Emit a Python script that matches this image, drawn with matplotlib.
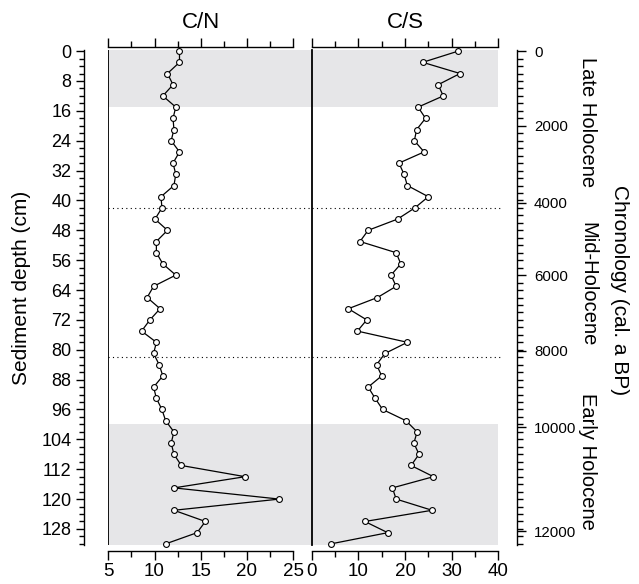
import numpy as np
import matplotlib
matplotlib.use("Agg")
import matplotlib.pyplot as plt
from matplotlib.ticker import MultipleLocator, FixedLocator, FixedFormatter
import matplotlib.transforms as mtransforms

plt.rcParams['font.family'] = ['Liberation Sans', 'DejaVu Sans']

# ---------------- data ----------------
depth_cm = [0, 3, 6, 9, 12, 15, 18, 21, 24, 27, 30, 33, 36, 39,
            42, 45, 48, 51, 54, 57, 60, 63, 66, 69, 72, 75, 78, 81, 84, 87, 90,
            93, 96, 99, 102, 105, 108, 111, 114, 117, 120, 123, 126, 129, 132]
cn_ratio = [12.7, 12.7, 11.4, 12.0, 10.9, 12.3, 12.0, 12.1, 11.8, 12.7, 12.0, 12.3, 12.1, 10.7,
            10.8, 10.05, 11.4, 10.2, 10.2, 10.9, 12.3, 9.9, 9.2, 10.6, 9.5, 8.6, 10.2, 9.9, 10.5, 10.9, 9.9,
            10.2, 10.8, 11.2, 12.1, 11.8, 12.1, 12.9, 19.8, 12.1, 23.5, 12.1, 15.5, 14.6, 11.2]
cs_ratio = [31.4, 23.8, 31.8, 27.1, 28.2, 22.8, 24.4, 22.5, 22.0, 24.1, 18.7, 19.8, 20.5, 25.0,
            22.1, 18.4, 12.1, 10.35, 18.1, 19.1, 17.0, 18.1, 14.1, 7.85, 11.8, 9.8, 20.5, 15.7, 13.9, 15.0, 12.1,
            13.6, 15.2, 20.2, 22.6, 21.9, 23.0, 21.3, 26.1, 17.3, 18.1, 25.8, 11.4, 16.3, 4.1]

# age-depth model (cal. a BP -> depth cm) used for the chronology axis
age_ticks = [0, 2000, 4000, 6000, 8000, 10000, 12000]
age_tick_depth = [0, 20.0, 40.6, 60.0, 80.2, 100.8, 128.6]

late_zone = (0, 15)
early_zone = (100, 132.3)
boundaries = [42, 82]
zone_labels = ["Late Holocene", "Mid-Holocene", "Early Holocene"]

# ---------------- figure ----------------
W, H = 639, 584
fig = plt.figure(figsize=(W / 100, H / 100), dpi=100)

def frac(x0, x1, ytop, ybot):
    return [x0 / W, 1 - ybot / H, (x1 - x0) / W, (ybot - ytop) / H]

ax_cn = fig.add_axes(frac(108.3, 311.7, 50, 545))
ax_cs = fig.add_axes(frac(311.7, 498.3, 50, 545))

ylim = (132.3, -0.3)
shade = '#e6e6e8'
lw_sp = 1.0

for ax, vals, xl, bounds, maj, title, tx in [
        (ax_cn, cn_ratio, (5, 27), (5, 25), 5, 'C/N', 15),
        (ax_cs, cs_ratio, (0, 40), (0, 40), 10, 'C/S', 20)]:
    ax.set_xlim(*xl)
    ax.set_ylim(*ylim)
    ax.patch.set_alpha(0)
    ax.axhspan(ylim[1], late_zone[1], color=shade, lw=0, zorder=0)
    ax.axhspan(early_zone[0], ylim[0], color=shade, lw=0, zorder=0)
    for b in boundaries:
        ax.plot([xl[0], xl[1] + (1.0 if ax is ax_cs else 0)], [b, b], color='k', lw=0.8,
                ls=(0, (1, 3)), zorder=1, clip_on=False)
    ax.plot(vals, depth_cm, color='k', lw=0.9, marker='o', ms=4.2, mfc='white',
            mec='k', mew=0.8, zorder=3, clip_on=False)
    for s in ['top', 'bottom']:
        ax.spines[s].set_bounds(*bounds)
        ax.spines[s].set_linewidth(lw_sp)
    ax.spines['top'].set_position(('outward', 2.4))
    ax.spines['bottom'].set_position(('outward', 4.3))
    ax.xaxis.set_major_locator(MultipleLocator(maj))
    ax.xaxis.set_minor_locator(MultipleLocator(maj / 2))
    ax.tick_params(axis='x', which='both', top=True, bottom=True, labeltop=False,
                   labelbottom=True, direction='out', width=lw_sp, labelsize=13.5, pad=2)
    ax.tick_params(axis='x', which='major', length=6.5)
    ax.tick_params(axis='x', which='minor', length=4.5)
    ax.text(tx, 1.0438, title, transform=mtransforms.blended_transform_factory(ax.transData, ax.transAxes),
            ha='center', va='baseline', fontsize=16)

# chronology axis
ax_age = ax_cs.twinx()
ax_age.set_ylim(*ylim)
for s in ['top', 'bottom', 'left']:
    ax_age.spines[s].set_visible(False)
ax_age.spines['right'].set_position(('outward', 13.2))
ax_age.spines['right'].set_linewidth(lw_sp)
ax_age.yaxis.set_major_locator(FixedLocator(age_tick_depth))
ax_age.yaxis.set_major_formatter(FixedFormatter([str(a) for a in age_ticks]))
ax_age.yaxis.set_minor_locator(MultipleLocator(2))
ax_age.tick_params(axis='y', which='both', direction='out', width=lw_sp, labelsize=10.8, pad=6)
ax_age.tick_params(axis='y', which='major', length=6.5)
ax_age.tick_params(axis='y', which='minor', length=4.3)
ax_age.tick_params(axis='x', which='both', top=False, bottom=False)

# C/S: left border only, no y ticks (after twinx, which re-enables left ticks)
ax_cs.spines['right'].set_visible(False)
ax_cs.spines['left'].set_linewidth(1.3)
ax_cs.tick_params(axis='y', which='both', left=False, right=False, labelleft=False, labelright=False)

# C/N: left depth axis (offset) + panel border
ax_cn.spines['right'].set_visible(False)
ax_cn.spines['left'].set_position(('outward', 17.5))
ax_cn.spines['left'].set_linewidth(lw_sp)
ax_cn.axvline(5, color='k', lw=1.3, zorder=4)
ax_cn.yaxis.set_major_locator(MultipleLocator(8))
ax_cn.yaxis.set_minor_locator(MultipleLocator(2))
ax_cn.tick_params(axis='y', which='both', left=True, right=False, direction='out', width=lw_sp)
ax_cn.tick_params(axis='y', which='major', length=5.5, labelsize=13, pad=3.5)
ax_cn.tick_params(axis='y', which='minor', length=3.3)

# labels
fig.text(22 / W, 1 - 288 / H, 'Sediment depth (cm)', rotation=90, ha='center', va='center', fontsize=15)
fig.text(620 / W, 1 - 290 / H, 'Chronology (cal. a BP)', rotation=-90, ha='center', va='center', fontsize=15)
for lab, yc in zip(zone_labels, [122, 284, 461]):
    fig.text(588 / W, 1 - yc / H, lab, rotation=-90, ha='center', va='center', fontsize=14.5)

fig.savefig('out.png', dpi=100)
